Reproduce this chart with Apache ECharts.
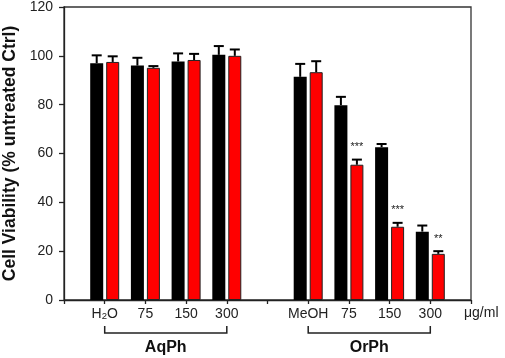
<!DOCTYPE html>
<html>
<head>
<meta charset="utf-8">
<script src="https://cdn.jsdelivr.net/npm/echarts@6/dist/echarts.min.js"></script>
<style>
  html, body { margin: 0; padding: 0; background: #fff; }
  #chart { width: 505px; height: 358px; }
</style>
</head>
<body>
<div id="chart"></div>
<script>
// slots on the x axis; empty strings are spacer slots
const categories = ["", "H2O", "75", "150", "300", "", "MeOH", "75", "150", "300", ""];
const blackValues = [null, 97.0, 96.0, 97.7, 100.4, null, 91.4, 79.8, 62.6, 28.0, null];
const blackErrors = [null, 3.2, 3.2, 3.3, 3.6, null, 5.3, 3.4, 1.3, 2.5, null];
const redValues = [null, 97.5, 95.1, 98.3, 100.0, null, 93.3, 55.4, 30.0, 18.9, null];
const redErrors = [null, 2.3, 0.7, 2.5, 2.6, null, 4.5, 2.1, 1.6, 1.1, null];
const redStars = ["", "", "", "", "", "", "", "***", "***", "**", ""];
const groupNames = ["AqPh", "OrPh"];
const groupSpans = [[1, 4], [6, 9]];
const yTicks = [0, 20, 40, 60, 80, 100, 120];

const FONT = "Liberation Sans, Arial, sans-serif";
const BAR_W = 13;
const BAR_OFF = 8;

function errData(vals, errs) {
  return vals
    .map((v, i) => (v == null ? null : [i, v, errs[i]]))
    .filter(Boolean);
}

function errorBarRenderer(offset, stars) {
  return (params, api) => {
    const i = api.value(0);
    const v = api.value(1);
    const e = api.value(2);
    const star = stars ? stars[i] : "";
    const top = api.coord([i, v]);
    const cap = api.coord([i, v + e]);
    const x = top[0] + offset;
    const style = { stroke: "#000", lineWidth: 2 };
    const children = [
      { type: "line", shape: { x1: x, y1: top[1], x2: x, y2: cap[1] }, style },
      { type: "line", shape: { x1: x - 5, y1: cap[1], x2: x + 5, y2: cap[1] }, style }
    ];
    if (star) {
      children.push({
        type: "text",
        style: {
          text: star, x: x, y: cap[1] - 7,
          align: "center", verticalAlign: "bottom",
          fontSize: 11, fontFamily: FONT, fill: "#222"
        }
      });
    }
    return { type: "group", children };
  };
}

const chart = echarts.init(document.getElementById("chart"));

chart.setOption({
  animation: false,
  textStyle: { fontFamily: FONT },
  grid: {
    left: 64, right: 34, top: 7, bottom: 58,
    outerBoundsMode: "none",
    show: true, borderColor: "#333", borderWidth: 1.3
  },
  xAxis: {
    type: "category",
    data: categories,
    boundaryGap: false,
    axisLine: { lineStyle: { color: "#222", width: 1.3 } },
    axisTick: { interval: 0, length: 4, lineStyle: { color: "#222", width: 1.3 } },
    axisLabel: {
      interval: 0, margin: 7, fontSize: 14, color: "#222",
      formatter: (v) => (v === "H2O" ? "{n|H}{sub|2}{n|O}" : v),
      rich: {
        n: { fontSize: 14, lineHeight: 14, padding: [0, 0, 3, 0], verticalAlign: "top", color: "#222" },
        sub: { fontSize: 9.5, lineHeight: 10, verticalAlign: "bottom", color: "#222" }
      }
    },
    splitLine: { show: false }
  },
  yAxis: {
    type: "value",
    min: yTicks[0],
    max: yTicks[yTicks.length - 1],
    interval: yTicks[1] - yTicks[0],
    name: "Cell Viability (% untreated Ctrl)",
    nameLocation: "middle",
    nameGap: 43,
    nameTextStyle: { fontSize: 17.5, fontWeight: "bold", color: "#111" },
    axisLine: { show: true, lineStyle: { color: "#222", width: 1.3 } },
    axisTick: { show: true, length: 5, lineStyle: { color: "#222", width: 1.3 } },
    axisLabel: { margin: 11, fontSize: 14, color: "#222" },
    splitLine: { show: false }
  },
  series: [
    {
      type: "bar",
      data: blackValues,
      barWidth: BAR_W,
      barGap: "23%",
      itemStyle: { color: "#000" }
    },
    {
      type: "bar",
      data: redValues,
      barWidth: BAR_W,
      itemStyle: { color: "#ff0000", borderColor: "#222", borderWidth: 1 }
    },
    {
      type: "custom",
      data: errData(blackValues, blackErrors),
      renderItem: errorBarRenderer(-BAR_OFF),
      z: 5
    },
    {
      type: "custom",
      data: errData(redValues, redErrors),
      renderItem: errorBarRenderer(BAR_OFF, redStars),
      z: 5
    },
    {
      type: "custom",
      data: groupSpans,
      clip: false,
      renderItem: (params, api) => {
        const a = api.coord([api.value(0), 0]);
        const b = api.coord([api.value(1), 0]);
        const yLine = a[1] + 33;
        const style = { stroke: "#222", lineWidth: 1.5, fill: null };
        return {
          type: "group",
          children: [
            {
              type: "polyline",
              shape: { points: [[a[0], yLine - 7], [a[0], yLine], [b[0], yLine], [b[0], yLine - 7]] },
              style
            },
            {
              type: "text",
              style: {
                text: groupNames[params.dataIndex],
                x: (a[0] + b[0]) / 2, y: yLine + 15,
                align: "center", verticalAlign: "middle",
                fontSize: 16, fontWeight: "bold", fontFamily: FONT, fill: "#111"
              }
            }
          ]
        };
      }
    }
  ],
  graphic: [
    {
      type: "text",
      left: 464,
      top: 306,
      style: { text: "μg/ml", fontSize: 14, fontFamily: FONT, fill: "#222" }
    }
  ]
});
</script>
</body>
</html>
